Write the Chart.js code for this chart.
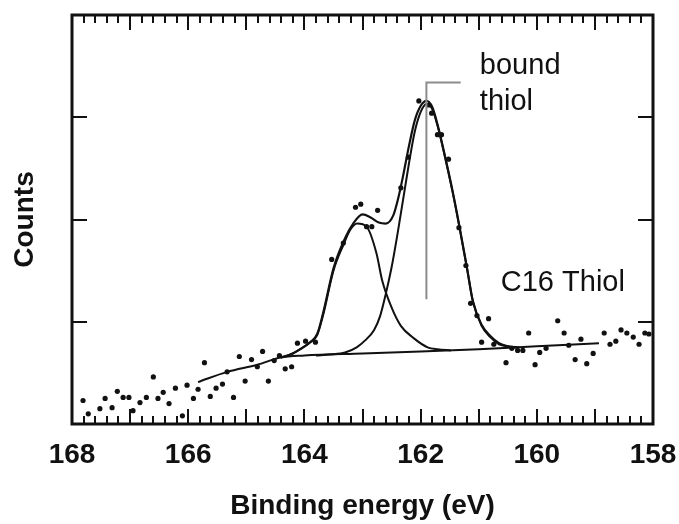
<!DOCTYPE html>
<html>
<head>
<meta charset="utf-8">
<script src="https://cdn.jsdelivr.net/npm/chart.js@4.4.0/dist/chart.umd.min.js"></script>
<style>
  html, body { margin: 0; padding: 0; background: #fff; }
  #wrap { width: 679px; height: 524px; }
</style>
</head>
<body>
<div id="wrap"><canvas id="myChart"></canvas></div>
<script>
// measured points (binding energy in eV, counts in arbitrary units)
const dotEnergy = [167.81, 167.72, 167.52, 167.43, 167.31, 167.22, 167.12, 167.02, 166.95, 166.83,
  166.72, 166.60, 166.52, 166.43, 166.33, 166.22, 166.10, 166.02, 165.91, 165.83,
  165.72, 165.62, 165.52, 165.41, 165.33, 165.22, 165.12, 165.02, 164.91, 164.81,
  164.72, 164.62, 164.52, 164.43, 164.33, 164.22, 164.12, 163.98, 163.81, 163.53,
  163.33, 163.12, 163.03, 162.93, 162.84, 162.74, 162.34, 162.21, 162.03, 161.86,
  161.81, 161.71, 161.64, 161.52, 161.34, 161.22, 161.14, 161.03, 160.95, 160.83,
  160.74, 160.53, 160.43, 160.33, 160.24, 160.14, 160.03, 159.95, 159.84, 159.64,
  159.53, 159.45, 159.34, 159.24, 159.14, 159.03, 158.84, 158.74, 158.64, 158.55,
  158.45, 158.34, 158.24, 158.14, 158.07]
const dotCounts = [0.23, 0.10, 0.15, 0.25, 0.16, 0.32, 0.26, 0.26, 0.13, 0.21,
  0.26, 0.46, 0.25, 0.31, 0.20, 0.35, 0.08, 0.38, 0.25, 0.34,
  0.60, 0.27, 0.35, 0.39, 0.51, 0.26, 0.66, 0.42, 0.63, 0.56,
  0.71, 0.42, 0.62, 0.67, 0.54, 0.56, 0.79, 0.81, 0.80, 1.61,
  1.77, 2.12, 2.15, 1.93, 1.93, 2.09, 2.31, 2.61, 3.16, 3.12,
  3.04, 2.83, 2.83, 2.59, 1.92, 1.55, 1.18, 1.06, 0.80, 1.03,
  0.78, 0.60, 0.74, 0.72, 0.72, 0.89, 0.58, 0.70, 0.74, 1.01,
  0.89, 0.77, 0.63, 0.83, 0.59, 0.69, 0.89, 0.78, 0.81, 0.92,
  0.89, 0.85, 0.78, 0.89, 0.88]

// fitted envelope
const envEnergy = [164.41, 164.24, 164.05, 163.90, 163.78, 163.68, 163.50, 163.33, 163.16, 163.00,
  162.86, 162.72, 162.60, 162.47, 162.38, 162.30, 162.20, 162.10, 162.00, 161.90,
  161.80, 161.70, 161.60, 161.45, 161.34, 161.20, 161.10, 160.95, 160.80, 160.65,
  160.50, 160.35]
const envCounts = [0.65, 0.68, 0.74, 0.80, 0.88, 1.08, 1.52, 1.78, 1.96, 2.05,
  2.02, 1.97, 1.96, 2.04, 2.22, 2.43, 2.72, 2.97, 3.11, 3.16,
  3.10, 2.91, 2.67, 2.28, 1.96, 1.52, 1.20, 0.97, 0.86, 0.79,
  0.76, 0.75]

// bound thiol component
const boundEnergy = [163.80, 163.55, 163.30, 163.10, 162.95, 162.80, 162.70, 162.60, 162.50, 162.40,
  162.30, 162.20, 162.10, 162.00, 161.90, 161.80, 161.70, 161.60, 161.45, 161.34,
  161.20, 161.10, 160.95, 160.80, 160.65, 160.50, 160.30]
const boundCounts = [0.67, 0.68, 0.70, 0.75, 0.82, 0.92, 1.05, 1.27, 1.53, 1.85,
  2.20, 2.55, 2.86, 3.05, 3.13, 3.08, 2.90, 2.66, 2.27, 1.95,
  1.52, 1.20, 0.96, 0.85, 0.78, 0.76, 0.75]

// second component
const upperEnergy = [164.41, 164.24, 164.05, 163.90, 163.78, 163.68, 163.50, 163.33, 163.21, 163.09,
  162.93, 162.76, 162.66, 162.50, 162.34, 162.12, 161.88, 161.71, 161.48]
const upperCounts = [0.65, 0.68, 0.74, 0.80, 0.87, 1.06, 1.50, 1.75, 1.90, 1.96,
  1.93, 1.67, 1.40, 1.14, 0.96, 0.84, 0.75, 0.73, 0.72]

// background
const bgEnergy = [165.83, 165.33, 164.81, 164.41, 164.00, 163.00, 162.00, 161.00, 160.00, 158.93]
const bgCounts = [0.41, 0.51, 0.58, 0.65, 0.67, 0.69, 0.71, 0.73, 0.76, 0.79]

// peak marker
const markerEnergy = [161.31, 161.90, 161.90]
const markerCounts = [3.34, 3.34, 1.22]

const yTicks = [1, 2, 3]
const notes = [
  { text: 'bound', x: 160.98, y: 3.42 },
  { text: 'thiol', x: 160.98, y: 3.07 },
  { text: 'C16 Thiol', x: 160.62, y: 1.30 },
]

const pts = (xs, ys) => xs.map((v, i) => ({ x: v, y: ys[i] }))
const ink = '#111'

const frameAndNotes = {
  id: 'frameAndNotes',
  afterDatasetsDraw(chart) {
    const { ctx, chartArea: a, scales: { x, y } } = chart
    ctx.save()
    ctx.strokeStyle = ink
    ctx.lineWidth = 2
    ctx.beginPath()
    for (let i = 0; i <= 50; i++) {
      const px = Math.round(x.getPixelForValue(158 + i * 0.2))
      const len = i % 5 === 0 ? 15 : 8
      ctx.moveTo(px, a.bottom)
      ctx.lineTo(px, a.bottom - len)
      ctx.moveTo(px, a.top)
      ctx.lineTo(px, a.top + len)
    }
    yTicks.forEach((v) => {
      const py = Math.round(y.getPixelForValue(v))
      ctx.moveTo(a.left, py)
      ctx.lineTo(a.left + 15, py)
      ctx.moveTo(a.right, py)
      ctx.lineTo(a.right - 15, py)
    })
    ctx.stroke()
    ctx.lineWidth = 3
    ctx.strokeRect(a.left, a.top, a.right - a.left, a.bottom - a.top)

    ctx.fillStyle = ink
    ctx.font = '29px "Liberation Sans", Arial, sans-serif'
    ctx.textBaseline = 'alphabetic'
    ctx.textAlign = 'left'
    notes.forEach((n) => {
      ctx.fillText(n.text, x.getPixelForValue(n.x), y.getPixelForValue(n.y))
    })
    ctx.restore()
  },
}

const lineSet = (data, color, width) => ({
  data,
  showLine: true,
  borderColor: color,
  borderWidth: width,
  pointRadius: 0,
  cubicInterpolationMode: 'monotone',
  fill: false,
})

const font = { family: '"Liberation Sans", Arial, sans-serif', size: 28, weight: 'bold' }

new Chart(document.getElementById('myChart'), {
  type: 'scatter',
  data: {
    datasets: [
      { ...lineSet(pts(markerEnergy, markerCounts), '#8c8c8c', 2), cubicInterpolationMode: 'default', tension: 0 },
      lineSet(pts(bgEnergy, bgCounts), ink, 2),
      lineSet(pts(upperEnergy, upperCounts), ink, 2),
      lineSet(pts(boundEnergy, boundCounts), ink, 2),
      lineSet(pts(envEnergy, envCounts), ink, 2.2),
      {
        data: pts(dotEnergy, dotCounts),
        pointRadius: 2.6,
        pointBackgroundColor: ink,
        pointBorderWidth: 0,
        showLine: false,
      },
    ],
  },
  options: {
    responsive: true,
    maintainAspectRatio: false,
    animation: false,
    layout: { padding: { top: 15, right: 26, bottom: 0, left: 0 } },
    plugins: { legend: { display: false }, tooltip: { enabled: false } },
    scales: {
      x: {
        type: 'linear',
        reverse: true,
        min: 158,
        max: 168,
        grid: { display: false, drawTicks: false },
        border: { display: false },
        ticks: { stepSize: 2, padding: 14, color: ink, font, maxRotation: 0 },
        title: {
          display: true,
          text: 'Binding energy (eV)',
          color: ink,
          font: { ...font, lineHeight: 1 },
          padding: { top: 0, bottom: 4 },
        },
        afterFit(s) {
          s.height = 100
          s.paddingLeft = 0
          s.paddingRight = 0
        },
      },
      y: {
        min: 0,
        max: 4,
        grid: { display: false, drawTicks: false },
        border: { display: false },
        ticks: { display: false, stepSize: 1 },
        title: {
          display: true,
          text: 'Counts',
          color: ink,
          font: { ...font, lineHeight: 1 },
          padding: { top: 11, bottom: 0 },
        },
        afterFit(s) {
          s.width = 72
        },
      },
    },
  },
  plugins: [frameAndNotes],
})
</script>
</body>
</html>
